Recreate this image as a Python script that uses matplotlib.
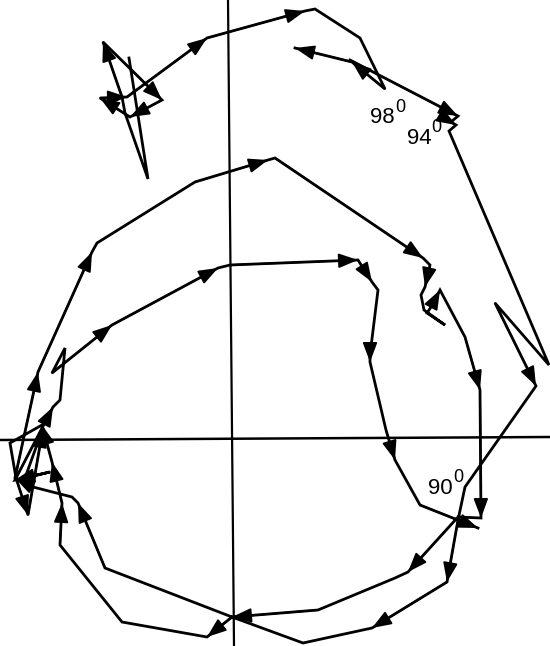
import matplotlib
matplotlib.use("Agg")
import matplotlib.pyplot as plt

# Axes of the plot
axis_h_x = [0, 550]
axis_h_y = [440, 437]
axis_v_x = [228, 234]
axis_v_y = [0, 646]

# Path pieces: x, y and the vertices that carry an arrowhead
top_x = [129, 148, 125, 122, 103, 162, 130, 100, 127, 207, 305, 315, 360, 385, 352, 295]
top_y = [58, 179, 113, 97, 42, 100, 117, 98, 97, 38, 11, 9, 38, 89, 62, 48]
top_arrows = [4, 5, 6, 7, 8, 9, 10, 14, 15]

right_x = [350, 458, 451, 456, 449, 549, 495, 536, 465, 458, 447, 372, 303, 232, 105, 78, 72,
           33, 15, 38, 92, 97, 195, 268, 275, 423, 430, 425, 421, 424, 445, 427, 431, 440,
           465, 480, 481, 458, 408, 395, 318, 232, 207, 122, 60, 62, 52, 42, 10, 16, 28, 43,
           25, 50, 15, 53, 60, 65, 52, 112, 218, 230, 358, 372, 378, 370, 370, 386, 395,
           420, 478]
right_y = [60, 116, 122, 125, 131, 365, 303, 386, 487, 520, 582, 628, 643, 617, 568, 503, 497,
           487, 478, 372, 252, 243, 182, 160, 158, 258, 265, 287, 295, 310, 325, 313, 307, 290,
           337, 390, 518, 517, 572, 578, 610, 617, 637, 622, 545, 503, 462, 425, 443, 478, 515, 428,
           478, 472, 480, 407, 400, 348, 373, 325, 268, 265, 260, 282, 290, 355, 362, 430, 460,
           505, 528]
right_arrows = [1, 3, 7, 10, 11, 15, 18, 19, 20, 23, 25, 27, 33, 35, 36, 38, 41, 42, 45, 46, 47, 50,
                51, 54, 55, 59, 60, 62, 63, 66, 68, 70]

# Angle labels
labels = ["98", "94", "90"]
label_x = [370, 407, 428]
label_y = [123, 144, 494]
degree_x = [395, 431, 453]
degree_y = [112, 132, 482]

fig = plt.figure(figsize=(5.5, 6.46), dpi=100)
ax = fig.add_axes([0, 0, 1, 1])
ax.set_xlim(0, 550)
ax.set_ylim(646, 0)
ax.axis("off")

ax.plot(axis_h_x, axis_h_y, color="black", lw=1.8)
ax.plot(axis_v_x, axis_v_y, color="black", lw=1.6)

for xs, ys, arrows in [(top_x, top_y, top_arrows), (right_x, right_y, right_arrows)]:
    ax.plot(xs, ys, color="black", lw=2.0, solid_joinstyle="miter")
    for i in arrows:
        ax.annotate("", xy=(xs[i], ys[i]), xytext=(xs[i - 1], ys[i - 1]),
                    arrowprops=dict(arrowstyle="-|>,head_length=0.85,head_width=0.32",
                                    mutation_scale=14, color="black", lw=1.3,
                                    shrinkA=0, shrinkB=0))

for s, x, y, dx, dy in zip(labels, label_x, label_y, degree_x, degree_y):
    ax.text(x, y, s, fontsize=16, family="Liberation Sans", ha="left", va="baseline")
    ax.text(dx, dy, "0", fontsize=13, family="Liberation Sans", ha="left", va="baseline")

fig.savefig("out.png", dpi=100)
